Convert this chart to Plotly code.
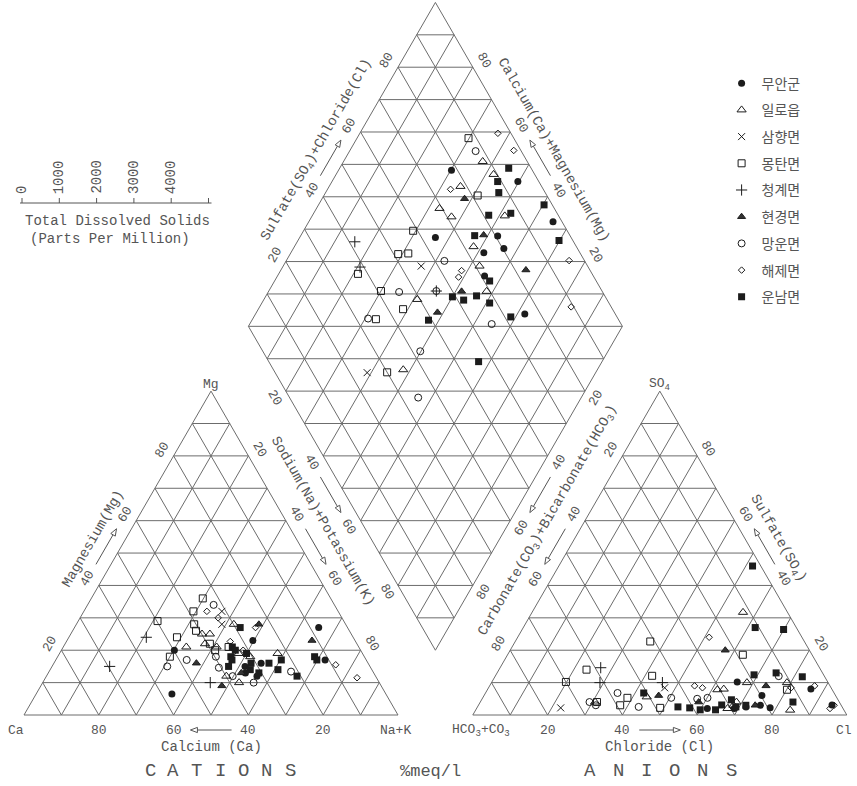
import numpy as np
import plotly.graph_objects as go

# ---------------------------------------------------------------- data (meq/l %)
SITE_NAMES = ["무안군", "일로읍", "삼향면", "몽탄면", "청계면", "현경면", "망운면", "해제면", "운남면"]

SITE = (["무안군"] * 9 + ["일로읍"] * 11 + ["삼향면"] * 2 + ["몽탄면"] * 10 + ["청계면"] * 3
        + ["현경면"] * 5 + ["망운면"] * 8 + ["해제면"] * 7 + ["운남면"] * 16)

CA = [49.8, 27.3, 57.2, 34.3, 7.7, 33.4, 31.7, 28.6, 11.0,
      37.8, 29.9, 39.9, 46.1, 40.6, 30.5, 33.1, 37.5, 22.7, 38.0, 39.9,
      31.1, 33.1,
      34.2, 38.9, 38.7, 47.1, 40.5, 49.8, 52.0, 39.3, 41.0, 34.8,
      69.6, 55.3, 45.2,
      45.9, 23.2, 35.4, 42.6, 11.5,
      32.3, 39.7, 48.0, 40.6, 54.2, 21.9, 38.2, 33.6,
      33.1, 33.5, 35.1, 8.9, 24.6, 31.4, 5.2,
      33.8, 28.7, 35.7, 22.7, 35.9, 31.3, 33.5, 13.2, 26.5, 31.0, 32.5, 30.7, 25.1, 37.8, 13.3, 21.0]
MG = [20, 23, 6.5, 13, 27, 15, 12, 16, 17,
      25, 28, 25, 21, 22, 18, 19, 10, 19, 21, 12,
      32, 28,
      36, 20, 32, 24, 28, 29, 18, 22, 26, 21,
      15, 24, 10,
      16, 28, 13, 9, 23,
      34, 18, 17, 14.6, 15, 13.4, 12, 10,
      30, 22.7, 32, 15.5, 27, 20, 11.5,
      21, 27, 18, 17, 17, 16, 20, 17, 16, 19, 14, 13, 14, 15, 18, 12]
NAK = [30.2, 49.7, 36.3, 52.7, 65.3, 51.6, 56.3, 55.4, 72.0,
       37.2, 42.1, 35.1, 32.9, 37.4, 51.5, 47.9, 52.5, 58.3, 41.0, 48.1,
       36.9, 38.9,
       29.8, 41.1, 29.3, 28.9, 31.5, 21.2, 30.0, 38.7, 33.0, 44.2,
       15.4, 20.7, 44.8,
       38.1, 48.8, 51.6, 48.4, 65.5,
       33.7, 42.3, 35.0, 44.8, 30.8, 64.7, 49.8, 56.4,
       36.9, 43.8, 32.9, 75.6, 48.4, 48.6, 83.3,
       45.2, 44.3, 46.3, 60.3, 47.1, 52.7, 46.5, 69.8, 57.5, 50.0, 53.5, 56.3, 60.9, 47.2, 68.7, 67.0]
HCO3 = [21.6, 5.6, 36.3, 19.4, 2.4, 25.7, 19.7, 29.1, 24.2,
        11.9, 11.0, 21.7, 30.7, 28.8, 14.4, 27.5, 28.9, 30.9, 50.7, 65.3,
        44.5, 75.4,
        12.1, 18.5, 41.2, 48.8, 46.0, 62.6, 59.1, 56.0, 64.8, 70.0,
        58.5, 61.0, 44.3,
        22.5, 23.0, 37.6, 47.3, 17.1,
        12.2, 37.5, 54.4, 44.3, 66.8, 34.6, 57.9, 65.6,
        3.5, 1.9, 24.8, 4.1, 34.4, 36.2, 10.7,
        6.0, 11.0, 12.4, 2.2, 18.6, 12.4, 25.5, 3.7, 28.5, 40.9, 38.4, 34.3, 31.9, 50.9, 28.4, 43.9]
SO4 = [3, 8, 2, 2.2, 3.1, 2.5, 6, 2, 10.2,
       31.7, 10, 10, 7.8, 3, 1.5, 4, 8, 2, 5.6, 4,
       8.4, 2.2,
       7.8, 18.6, 22.7, 2.2, 12.1, 14, 3, 5.3, 4, 10.2,
       14.6, 10, 10,
       20, 3, 4, 6, 9,
       12, 5, 2.5, 5.3, 4, 5.3, 6.8, 3,
       2, 3, 24, 9, 8.4, 9, 8.4,
       11.8, 27, 13, 46, 12.4, 4, 3, 26.4, 4.7, 2.2, 1.6, 1.6, 3.1, 6.8, 2.5, 2.5]
CL = [75.4, 86.4, 61.7, 78.4, 94.5, 71.8, 74.3, 68.9, 65.6,
      56.4, 79.0, 68.3, 61.5, 68.2, 84.1, 68.5, 63.1, 67.1, 43.7, 30.7,
      47.1, 22.4,
      80.1, 62.9, 36.1, 49.0, 41.9, 23.4, 37.9, 38.7, 31.2, 19.8,
      26.9, 29.0, 45.7,
      57.5, 74.0, 58.4, 46.7, 73.9,
      75.8, 57.5, 43.1, 50.4, 29.2, 60.1, 35.3, 31.4,
      94.5, 95.1, 51.2, 86.9, 57.2, 54.8, 80.9,
      82.2, 62.0, 74.6, 51.8, 69.0, 83.6, 71.5, 69.9, 66.8, 56.9, 60.0, 64.1, 65.0, 42.3, 69.1, 53.6]

GRID_STEPS = list(range(10, 100, 10))
EDGE_TICKS = [20, 40, 60, 80]
TDS_TICKS = [0, 1000, 2000, 3000, 4000, 5000]
TDS_LABELS = ["0", "1000", "2000", "3000", "4000"]

# ---------------------------------------------------------------- geometry
SIDE = 100.0
GAP = 20.0
R3 = np.sqrt(3) / 2
AX0 = SIDE + GAP                 # left corner of the anion triangle
DBX, DBY = SIDE + GAP / 2, GAP / 2 * np.sqrt(3)   # bottom corner of the diamond
PX = 3.74                        # screen pixels per diagram unit
W, H = 857, 786
X0PX, Y0PX = 24, 715             # screen position of the Ca corner

INK = "#1c1c1c"
LINE = "#6c6c6c"
TXT = "#555555"
MONO = "Liberation Mono, DejaVu Sans Mono, monospace"
NUM_SIZE = 13
TITLE_SIZE = 14


def cat_xy(ca, mg, nak):
    t = ca + mg + nak
    mg, nak = 100 * mg / t, 100 * nak / t
    return nak + mg / 2, mg * R3 * SIDE / 100


def an_xy(hco3, so4, cl):
    t = hco3 + so4 + cl
    so4, cl = 100 * so4 / t, 100 * cl / t
    return AX0 + cl + so4 / 2, so4 * R3 * SIDE / 100


def dia_xy(camg, so4cl):
    return DBX + (so4cl - camg) / 2, DBY + (camg + so4cl) * R3


def u(px):
    return px / PX


def sx(px):
    """screen x (pixels) -> diagram units"""
    return (px - X0PX) / PX


def sy(py):
    """screen y (pixels) -> diagram units"""
    return (Y0PX - py) / PX


# ---------------------------------------------------------------- grid lines
gx, gy = [], []


def seg(p, q):
    gx.extend([p[0], q[0], None])
    gy.extend([p[1], q[1], None])


for k in GRID_STEPS:
    # cation triangle
    seg(cat_xy(100 - k, k, 0), cat_xy(0, k, 100 - k))
    seg(cat_xy(100 - k, 0, k), cat_xy(0, 100 - k, k))
    seg(cat_xy(k, 0, 100 - k), cat_xy(k, 100 - k, 0))
    # anion triangle
    seg(an_xy(100 - k, k, 0), an_xy(0, k, 100 - k))
    seg(an_xy(100 - k, 0, k), an_xy(0, 100 - k, k))
    seg(an_xy(k, 0, 100 - k), an_xy(k, 100 - k, 0))
    # diamond, two diagonal families
    seg(dia_xy(k, 0), dia_xy(k, 100))
    seg(dia_xy(0, k), dia_xy(100, k))
for j in range(1, 20):
    T = 10 * j
    w = min(T, 200 - T)
    seg(dia_xy((T + w) / 2, (T - w) / 2), dia_xy((T - w) / 2, (T + w) / 2))

# outlines
for poly in ([cat_xy(100, 0, 0), cat_xy(0, 0, 100), cat_xy(0, 100, 0), cat_xy(100, 0, 0)],
             [an_xy(100, 0, 0), an_xy(0, 0, 100), an_xy(0, 100, 0), an_xy(100, 0, 0)],
             [dia_xy(0, 0), dia_xy(0, 100), dia_xy(100, 100), dia_xy(100, 0), dia_xy(0, 0)]):
    for a, b in zip(poly[:-1], poly[1:]):
        seg(a, b)

fig = go.Figure()
fig.add_trace(go.Scatter(x=gx, y=gy, mode="lines", line=dict(color=LINE, width=1),
                         hoverinfo="skip", showlegend=False))

# ---------------------------------------------------------------- samples
STYLE = {
    "무안군": dict(symbol="circle", size=7, color=INK, line=dict(width=0)),
    "일로읍": dict(symbol="triangle-up-open", size=8, color=INK, line=dict(width=1)),
    "삼향면": dict(symbol="x-thin-open", size=7, color=INK, line=dict(width=1, color=INK)),
    "몽탄면": dict(symbol="square-open", size=7, color=INK, line=dict(width=1)),
    "청계면": dict(symbol="cross-thin-open", size=8, color=INK, line=dict(width=1, color=INK)),
    "현경면": dict(symbol="triangle-up", size=7, color="#333333", line=dict(width=1, color=INK)),
    "망운면": dict(symbol="circle-open", size=7, color=INK, line=dict(width=1)),
    "해제면": dict(symbol="diamond-open", size=5, color=INK, line=dict(width=1)),
    "운남면": dict(symbol="square", size=7, color=INK, line=dict(width=0)),
}

for name in SITE_NAMES:
    idx = [i for i, s in enumerate(SITE) if s == name]
    xs, ys = [], []
    for i in idx:
        cx, cy = cat_xy(CA[i], MG[i], NAK[i])
        ax_, ay_ = an_xy(HCO3[i], SO4[i], CL[i])
        tc = CA[i] + MG[i] + NAK[i]
        ta = HCO3[i] + SO4[i] + CL[i]
        dx, dy = dia_xy(100 * (CA[i] + MG[i]) / tc, 100 * (SO4[i] + CL[i]) / ta)
        xs += [cx, ax_, dx]
        ys += [cy, ay_, dy]
    fig.add_trace(go.Scatter(x=xs, y=ys, mode="markers", name=name, legendgroup=name,
                             marker=STYLE[name], hoverinfo="skip"))

# ---------------------------------------------------------------- axis labels
ann = []
shapes = []


def text(x, y, s, angle=0, size=NUM_SIZE, font=MONO, color=TXT):
    ann.append(dict(x=x, y=y, text=s, showarrow=False, textangle=angle,
                    font=dict(family=font, size=size, color=color),
                    xanchor="center", yanchor="middle"))


def arrow(p, q):
    """direction arrow with an open triangular head, drawn as shapes"""
    p, q = np.array(p), np.array(q)
    d = (q - p) / np.linalg.norm(q - p)
    n = np.array([-d[1], d[0]])
    base = q - d * u(7)
    shapes.append(dict(type="line", x0=p[0], y0=p[1], x1=base[0], y1=base[1],
                       line=dict(color=TXT, width=1)))
    a, b = base + n * u(2.6), base - n * u(2.6)
    shapes.append(dict(type="path",
                       path=f"M {q[0]},{q[1]} L {a[0]},{a[1]} L {b[0]},{b[1]} Z",
                       line=dict(color=TXT, width=1), fillcolor="white"))


def edge_labels(p0, p100, normal, angle, title, num_off=13, title_off=29, title_at=50):
    p0, p100 = np.array(p0), np.array(p100)
    n = np.array(normal)

    def at(v, off):
        return p0 + (p100 - p0) * v / 100 + n * u(off)

    for v in EDGE_TICKS:
        x, y = at(v, num_off)
        text(x, y, str(v), angle)
    arrow(at(44.5, num_off), at(55.5, num_off))
    if title:
        x, y = at(title_at, title_off)
        text(x, y, title, angle, size=TITLE_SIZE)


# cation triangle
edge_labels(cat_xy(100, 0, 0), cat_xy(0, 100, 0), (-R3, 0.5), -60, "Magnesium(Mg)")
edge_labels(cat_xy(0, 100, 0), cat_xy(0, 0, 100), (R3, 0.5), 60, None)
edge_labels(cat_xy(0, 0, 100), cat_xy(100, 0, 0), (0, -1), 0, "Calcium (Ca)", num_off=15, title_off=32)
# diamond
edge_labels(dia_xy(100, 0), dia_xy(100, 100), (-R3, 0.5), -60, "Sulfate(SO<sub>4</sub>)+Chloride(Cl)")
edge_labels(dia_xy(0, 100), dia_xy(100, 100), (R3, 0.5), 60, "Calcium(Ca)+Magnesium(Mg)")
edge_labels(dia_xy(100, 0), dia_xy(0, 0), (-R3, -0.5), 60, None)
edge_labels(dia_xy(0, 100), dia_xy(0, 0), (R3, -0.5), -60, None)
# anion triangle
edge_labels(an_xy(0, 100, 0), an_xy(100, 0, 0), (-R3, 0.5), -60, None)
edge_labels(an_xy(0, 0, 100), an_xy(0, 100, 0), (R3, 0.5), 60, "Sulfate(SO<sub>4</sub>)")
edge_labels(an_xy(100, 0, 0), an_xy(0, 0, 100), (0, -1), 0, "Chloride (Cl)", num_off=15, title_off=32)

# titles centred in the gaps between the triangles and the diamond
g1 = (np.array(cat_xy(0, 50, 50)) + np.array(dia_xy(50, 0))) / 2
text(g1[0], g1[1], "Sodium(Na)+Potassium(K)", 60, size=TITLE_SIZE)
g2 = (np.array(an_xy(50, 50, 0)) + np.array(dia_xy(0, 50))) / 2
text(g2[0], g2[1], "Carbonate(CO<sub>3</sub>)+Bicarbonate(HCO<sub>3</sub>)", -60, size=TITLE_SIZE)

# corner names
ca_c, nak_c, mg_c = cat_xy(100, 0, 0), cat_xy(0, 0, 100), cat_xy(0, 100, 0)
hc_c, cl_c, so_c = an_xy(100, 0, 0), an_xy(0, 0, 100), an_xy(0, 100, 0)
text(ca_c[0] - u(8), ca_c[1] - u(15), "Ca")
text(nak_c[0] - u(3), nak_c[1] - u(15), "Na+K")
text(mg_c[0], mg_c[1] + u(7), "Mg")
text(hc_c[0] + u(8), hc_c[1] - u(15), "HCO<sub>3</sub>+CO<sub>3</sub>")
text(cl_c[0] - u(3), cl_c[1] - u(15), "Cl")
text(so_c[0], so_c[1] + u(7), "SO<sub>4</sub>")

# spaced bottom captions
for ch, xp in zip("CATIONS", np.linspace(150, 290, 7)):
    text(sx(xp), sy(771), ch, size=19)
for ch, xp in zip("ANIONS", np.linspace(590, 731, 6)):
    text(sx(xp), sy(771), ch, size=19)
text(sx(430), sy(771), "%meq/l", size=17)

# ---------------------------------------------------------------- TDS scale
tds_y = sy(203)
tds_x = [sx(22) + u(37.3) * t / 1000 for t in TDS_TICKS]
shapes.append(dict(type="line", x0=tds_x[0] - u(2), x1=tds_x[-1] + u(3), y0=tds_y, y1=tds_y,
                   line=dict(color=TXT, width=1)))
for xt in tds_x:
    shapes.append(dict(type="line", x0=xt, x1=xt, y0=tds_y, y1=tds_y + u(5),
                       line=dict(color=TXT, width=1)))
for xt, lab in zip(tds_x, TDS_LABELS):
    ann.append(dict(x=xt, y=tds_y + u(7), text=lab, showarrow=False, textangle=-90,
                    font=dict(family=MONO, size=TITLE_SIZE, color=TXT),
                    xanchor="center", yanchor="bottom"))
text(sx(117), sy(221), "Total Dissolved Solids", size=TITLE_SIZE)
text(sx(110), sy(239), "(Parts Per Million)", size=TITLE_SIZE)

# ---------------------------------------------------------------- layout
fig.update_layout(
    width=W, height=H,
    margin=dict(l=0, r=0, t=0, b=0),
    paper_bgcolor="white", plot_bgcolor="white",
    xaxis=dict(range=[sx(0), sx(W)], visible=False, fixedrange=True),
    yaxis=dict(range=[sy(H), sy(0)], visible=False, fixedrange=True),
    showlegend=True,
    legend=dict(x=0.842, y=0.914, xanchor="left", yanchor="top", tracegroupgap=5.5,
                font=dict(family="Noto Sans CJK KR", size=14, color=TXT),
                bgcolor="rgba(0,0,0,0)", borderwidth=0),
    annotations=ann,
    shapes=shapes,
)

fig.write_html("out.html")
